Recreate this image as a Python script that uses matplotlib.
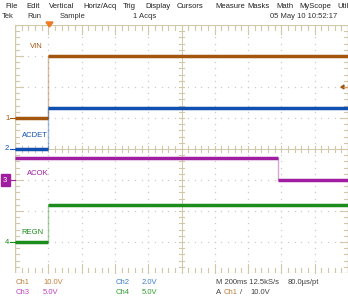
import matplotlib.pyplot as plt
import numpy as np

plt.rcParams['font.family'] = ['Liberation Sans Narrow', 'Liberation Sans', 'DejaVu Sans']

# scope settings (volts per division, offset in divisions)
time_per_div = 0.2  # 200 ms/div
ch_names = ['VIN', 'ACDET', 'ACOK', 'REGN']
ch_scale = [10.0, 2.0, 5.0, 5.0]
ch_offset = [1.0, 0.0, -1.0, -3.0]
ch_color = ['#a4560e', '#1050b0', '#a01ca0', '#1c8c1c']
ch_text_color = ['#c0803c', '#3c7cd0', '#c040c0', '#30a030']

# traces: time (s, from left edge of screen) and volts
ch1_t = [0.0, 0.2, 0.2, 2.0]
ch1_v = [0.0, 0.0, 20.0, 20.0]
ch2_t = [0.0, 0.2, 0.2, 2.0]
ch2_v = [0.0, 0.0, 2.65, 2.65]
ch3_t = [0.0, 1.58, 1.58, 2.0]
ch3_v = [3.5, 3.5, 0.0, 0.0]
ch4_t = [0.0, 0.2, 0.2, 2.0]
ch4_v = [0.0, 0.0, 6.0, 6.0]

traces = [(ch1_t, ch1_v), (ch2_t, ch2_v), (ch3_t, ch3_v), (ch4_t, ch4_v)]

fs = 5.5
fig = plt.figure(figsize=(3.48, 3.0), dpi=100)
W, H = 348.0, 300.0
ax = fig.add_axes([15 / W, (H - 273) / H, 333 / W, 248 / H])
ax.set_xlim(0, 10)
ax.set_ylim(-4, 4)
ax.set_axis_off()

grat = '#d0c8a8'
# dotted grid
for gx in range(1, 10):
    ys = np.arange(-4, 4.01, 0.2)
    ax.plot([gx] * len(ys), ys, ls='none', marker='s', ms=0.9, mew=0, color='#cccccc')
for gy in range(-3, 4):
    xs = np.arange(0, 10.01, 0.2)
    ax.plot(xs, [gy] * len(xs), ls='none', marker='s', ms=0.9, mew=0, color='#cccccc')

# frame
ax.plot([0, 0], [-4, 4], color=grat, lw=1.0)
ax.plot([10, 10], [-4, 4], color=grat, lw=1.0)
ax.plot([0, 10], [4, 4], color=grat, lw=0.8)
ax.plot([0, 10], [-4, -4], color=grat, lw=0.8)
# center axes
ax.plot([5, 5], [-4, 4], color=grat, lw=0.7)
ax.plot([0, 10], [0, 0], color=grat, lw=0.7)

# ticks
for x in np.arange(0, 10.01, 0.2):
    major = abs(x - round(x)) < 1e-6
    L = 0.3 if major else 0.15
    ax.plot([x, x], [4, 4 - L], color=grat, lw=0.8)
    ax.plot([x, x], [-4, -4 + L], color=grat, lw=0.8)
    ax.plot([x, x], [-0.1, 0.1], color=grat, lw=0.8)
for y in np.arange(-4, 4.01, 0.2):
    major = abs(y - round(y)) < 1e-6
    L = 0.25 if major else 0.12
    ax.plot([0, L], [y, y], color=grat, lw=0.8)
    ax.plot([10 - L, 10], [y, y], color=grat, lw=0.8)
    ax.plot([4.92, 5.08], [y, y], color=grat, lw=0.8)

# traces
for (t, v), sc, off, c in zip(traces, ch_scale, ch_offset, ch_color):
    t = np.array(t) / time_per_div
    d = np.array(v) / sc + off
    ax.plot(t, d, color=c, lw=1.0, alpha=0.4, solid_capstyle='butt')
    for i in range(len(t) - 1):
        if d[i] == d[i + 1]:
            ax.plot(t[i:i + 2], d[i:i + 2], color=c, lw=2.5, solid_capstyle='butt')

# trace labels
ax.text(0.45, 3.3, 'VIN', color=ch_color[0], fontsize=fs, va='center')
ax.text(0.2, 0.45, 'ACDET', color=ch_color[1], fontsize=fs, va='center')
ax.text(0.35, -0.8, 'ACOK', color=ch_color[2], fontsize=fs, va='center')
ax.text(0.2, -2.68, 'REGN', color=ch_color[3], fontsize=fs, va='center')

# channel ground markers
for i, (off, c) in enumerate(zip(ch_offset, ch_color)):
    y = (H - 273) / H + (off + 4) / 8 * 248 / H
    if i == 2:
        fig.text(3 / W, y, '3', color='white', fontsize=fs, va='center', ha='left',
                 bbox=dict(boxstyle='square,pad=0.3', fc=c, ec=c))
        fig.add_artist(plt.Line2D([10 / W, 15 / W], [y, y], color=c, lw=0.8))
    else:
        fig.text(5 / W, y, str(i + 1), color=c, fontsize=fs, va='center', ha='left')
        fig.add_artist(plt.Line2D([10 / W, 15 / W], [y, y], color=c, lw=0.8))

# trigger position and level markers
fig.add_artist(plt.Polygon([[46 / W, 1 - 22 / H], [53 / W, 1 - 22 / H], [49.5 / W, 1 - 27 / H]],
                           closed=True, color='#f07820', transform=fig.transFigure))
ty = (H - 273) / H + (2.0 + 4) / 8 * 248 / H
fig.add_artist(plt.Polygon([[341 / W, ty], [344 / W, ty + 2 / H], [344 / W, ty - 2 / H]],
                           closed=True, color=ch_color[0], transform=fig.transFigure))
fig.add_artist(plt.Line2D([344 / W, 348 / W], [ty, ty], color='#d0a070', lw=1.0))

# menu bar
menu = ['File', 'Edit', 'Vertical', 'Horiz/Acq', 'Trig', 'Display', 'Cursors',
        'Measure', 'Masks', 'Math', 'MyScope', 'Utili']
menu_x = [5, 26, 49, 83, 123, 145, 177, 215, 247, 276, 299, 337]
for s, x in zip(menu, menu_x):
    fig.text(x / W, 1 - 6 / H, s, fontsize=fs, va='center', color='#202020')
fig.text(2 / W, 1 - 17 / H, 'Tek', fontsize=fs, va='center', color='#303030')
fig.text(27 / W, 1 - 17 / H, 'Run', fontsize=fs, va='center', color='#303030')
fig.text(60 / W, 1 - 17 / H, 'Sample', fontsize=fs, va='center', color='#303030')
fig.text(133 / W, 1 - 17 / H, '1 Acqs', fontsize=fs, va='center', color='#303030')
fig.text(270 / W, 1 - 17 / H, '05 May 10 10:52:17', fontsize=fs, va='center', color='#303030')

# status readout
y1, y2 = 1 - 283 / H, 1 - 293 / H
fig.text(16 / W, y1, 'Ch1', color=ch_text_color[0], fontsize=fs, va='center')
fig.text(43 / W, y1, '%.1fV' % ch_scale[0], color=ch_text_color[0], fontsize=fs, va='center')
fig.text(16 / W, y2, 'Ch3', color=ch_text_color[2], fontsize=fs, va='center')
fig.text(43 / W, y2, '%.1fV' % ch_scale[2], color=ch_text_color[2], fontsize=fs, va='center')
fig.text(116 / W, y1, 'Ch2', color=ch_text_color[1], fontsize=fs, va='center')
fig.text(142 / W, y1, '%.1fV' % ch_scale[1], color=ch_text_color[1], fontsize=fs, va='center')
fig.text(116 / W, y2, 'Ch4', color=ch_text_color[3], fontsize=fs, va='center')
fig.text(142 / W, y2, '%.1fV' % ch_scale[3], color=ch_text_color[3], fontsize=fs, va='center')
fig.text(216 / W, y1, 'M 200ms 12.5kS/s', color='#404040', fontsize=fs, va='center')
fig.text(288 / W, y1, '80.0\u00b5s/pt', color='#404040', fontsize=fs, va='center')
fig.text(216 / W, y2, 'A', color='#404040', fontsize=fs, va='center')
fig.text(224 / W, y2, 'Ch1', color=ch_text_color[0], fontsize=fs, va='center')
fig.text(240 / W, y2, '/', color='#404040', fontsize=fs, va='center')
fig.text(250 / W, y2, '10.0V', color='#404040', fontsize=fs, va='center')

fig.savefig('out.png', dpi=100, facecolor='white')
